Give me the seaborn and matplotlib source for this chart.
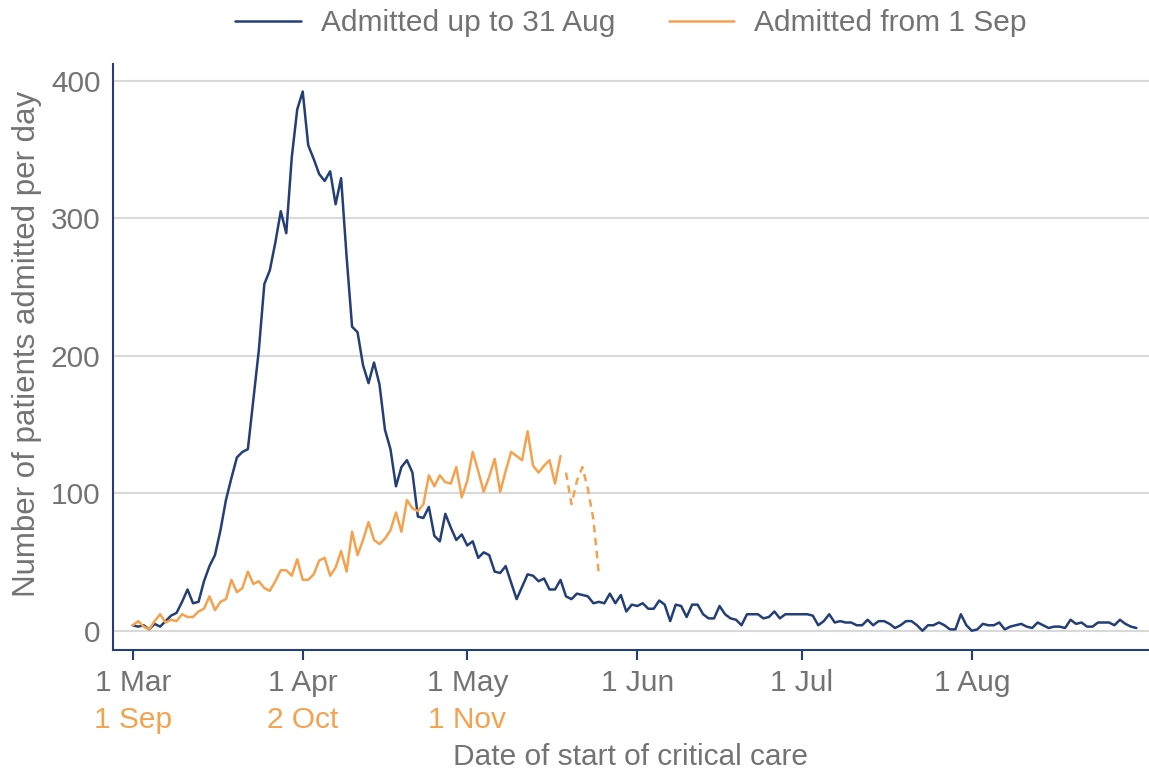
import matplotlib
matplotlib.use("Agg")
import matplotlib.pyplot as plt
import matplotlib.transforms as mtransforms
import numpy as np
import pandas as pd
import seaborn as sns

# daily admissions, first wave (day 0 = 1 Mar)
first_wave = [
    4, 3, 4, 1, 5, 3, 7, 11, 13, 21, 30, 20, 21, 36, 47, 55, 73, 95, 111, 126, 130, 132,
    168, 204, 252, 262, 282, 305, 289, 344, 379, 392, 353, 343, 332, 327, 334, 310, 329, 272, 221,
    217, 193, 180, 195, 179, 146, 132, 105, 119, 124, 115, 83, 82, 90, 69, 65, 85, 75, 66, 70, 62, 65, 53,
    57, 55, 43, 42, 47, 35, 23, 32, 41, 40, 36, 38, 30, 30, 37, 25, 23, 27, 26, 25, 20,
    21, 20, 27, 20, 26, 14, 19, 18, 20, 16, 16, 22, 19, 7, 19, 18, 10, 19, 19, 12,
    9, 9, 18, 12, 9, 8, 4, 12, 12, 12, 9, 10, 14, 9, 12, 12, 12, 12, 12, 11,
    4, 7, 12, 6, 7, 6, 6, 4, 4,
    8, 4, 7, 7, 5, 2, 4, 7, 7, 4, 0, 4, 4, 6, 4, 1, 1, 12, 4, 0,
    1, 5, 4, 4, 6, 1, 3, 4, 5, 3, 2, 6, 4, 2, 3, 3, 2, 8, 5, 6,
    3, 3, 6, 6, 6, 4, 8, 5, 3, 2,
]

# daily admissions, second wave (day 0 = 1 Sep)
second_wave = [
    4, 7, 3, 1, 7, 12, 6, 8, 7, 12, 10, 10, 14, 16, 25, 15, 21, 23, 37, 28, 31, 43, 34, 36, 31,
    29, 36, 44, 44, 40, 52, 37, 37, 41, 51, 53, 40, 46, 58, 43, 72, 55, 66, 79, 66, 63, 67, 73,
    86, 72, 95, 89, 87, 92, 113,
    105, 113, 108, 107, 119, 97, 109, 130, 116, 101, 112, 125, 101, 116, 130, 127, 124, 145,
    120, 115, 120, 124, 107, 127,
]
# most recent days, still incomplete (drawn dashed)
second_wave_provisional = [115, 92, 109, 119, 103, 81, 41]

series_names = ["Admitted up to 31 Aug", "Admitted from 1 Sep"]
first_start = pd.Timestamp("2020-03-01")
second_start = pd.Timestamp("2020-09-01")
month_starts = pd.date_range("2020-03-01", "2020-08-01", freq="MS")

navy = "#243f75"
orange = "#f5a24f"
grey = "#737373"
grid_col = "#d9d9d9"
fs = 21.5

df = pd.concat([
    pd.DataFrame({"day": np.arange(len(first_wave)), "count": first_wave,
                  "series": series_names[0]}),
    pd.DataFrame({"day": np.arange(len(second_wave)), "count": second_wave,
                  "series": series_names[1]}),
])
df_prov = pd.DataFrame({
    "day": np.arange(len(second_wave), len(second_wave) + len(second_wave_provisional)),
    "count": second_wave_provisional,
})

sns.set_theme(style="white")
plt.rcParams["font.family"] = ["Liberation Sans", "DejaVu Sans"]

fig, ax = plt.subplots(figsize=(11.49, 7.73), dpi=100)
fig.subplots_adjust(left=0.0983, right=1.0, top=0.9172, bottom=0.1591)

sns.lineplot(data=df, x="day", y="count", hue="series", hue_order=series_names,
             palette=[navy, orange], lw=1.8, ax=ax)
sns.lineplot(data=df_prov, x="day", y="count", color=orange, lw=1.8,
             linestyle=(0, (3, 2.2)), ax=ax, legend=False)

ax.set_xlim(-3.6, 185.3)
ax.set_ylim(-14, 412)
ax.set_yticks([0, 100, 200, 300, 400])

tick_days = [(d - first_start).days for d in month_starts]
ax.set_xticks(tick_days)
ax.set_xticklabels([f"{d.day} {d.strftime('%b')}" for d in month_starts])

ax.yaxis.grid(True, color=grid_col, lw=1.5)
ax.xaxis.grid(False)
ax.set_axisbelow(True)
sns.despine(ax=ax)
for side in ["left", "bottom"]:
    ax.spines[side].set_color(navy)
    ax.spines[side].set_linewidth(1.5)

ax.tick_params(axis="x", bottom=True, colors=navy, length=7, width=1.5,
               labelcolor=grey, labelsize=fs, pad=7)
ax.tick_params(axis="y", left=False, labelcolor=grey, labelsize=fs, pad=3)

# second-wave dates under the first three ticks
trans = mtransforms.blended_transform_factory(ax.transData, ax.transAxes)
for d in tick_days[:3]:
    lbl = second_start + pd.Timedelta(days=d)
    ax.text(d, -0.12, f"{lbl.day} {lbl.strftime('%b')}", transform=trans,
            ha="center", va="center", color=orange, fontsize=fs)

ax.set_xlabel("Date of start of critical care", color=grey, fontsize=fs)
ax.set_ylabel("Number of patients admitted per day", color=grey, fontsize=22.5)
ax.xaxis.set_label_coords(0.5, -0.158)
ax.yaxis.set_label_coords(-0.068, 0.522)

sns.move_legend(ax, "lower center", bbox_to_anchor=(0.5, 1.0), ncol=2, frameon=False,
                title=None, fontsize=fs, handlelength=2.2, columnspacing=1.8,
                handletextpad=0.67, labelcolor=grey)

fig.savefig("out.png", dpi=100)
